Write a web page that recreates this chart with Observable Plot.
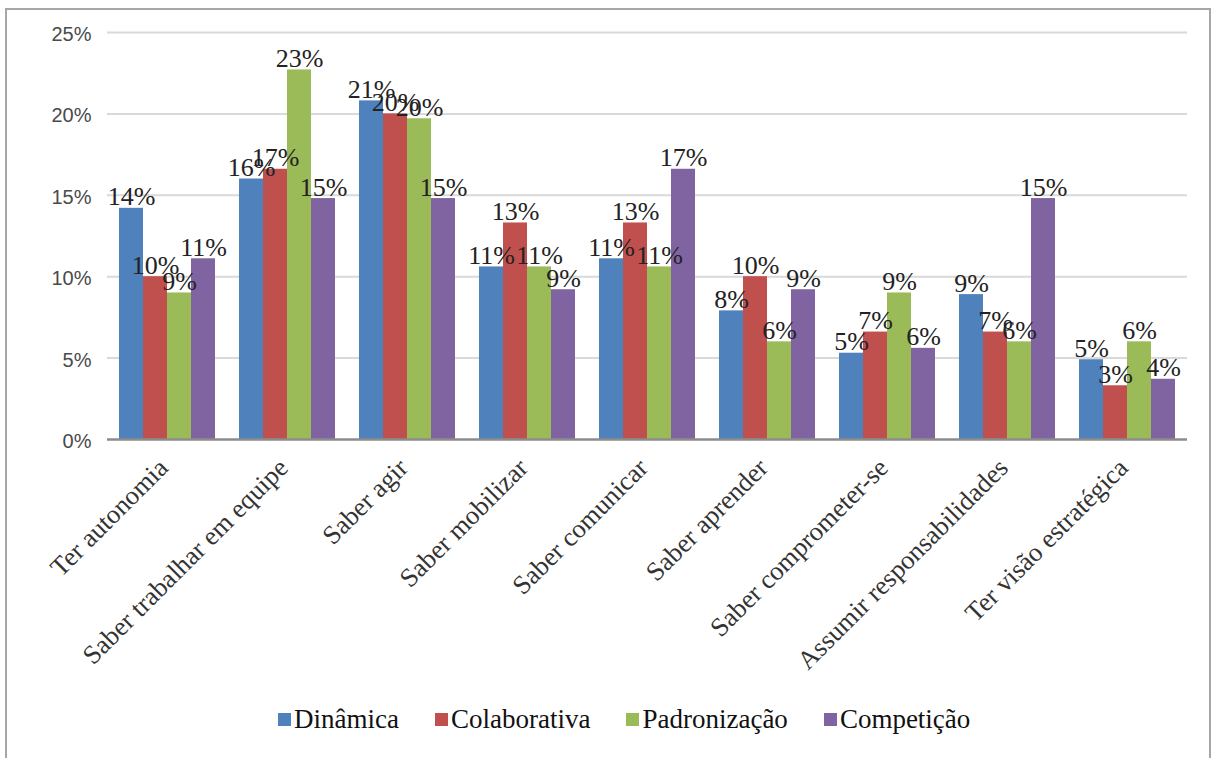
<!DOCTYPE html>
<html>
<head>
<meta charset="utf-8">
<script src="https://cdn.jsdelivr.net/npm/d3@7"></script>
<script src="https://cdn.jsdelivr.net/npm/@observablehq/plot@0.6"></script>
<style>
  html, body { margin: 0; padding: 0; background: #fff; width: 1215px; height: 758px; overflow: hidden; }
  #frame { position: absolute; left: 5px; top: 8px; width: 1206px; height: 770px; border: 2px solid #a6a6a6; border-bottom: none; box-sizing: border-box; }
  #chart { position: absolute; left: 0; top: 0; }
  #legend { position: absolute; left: 278px; top: 704px; display: flex; align-items: center; font-family: "Liberation Serif", "Times New Roman", serif; font-size: 27px; color: #111; }
  #legend .item { display: flex; align-items: center; margin-right: 36px; }
  #legend .sw { width: 13px; height: 13px; margin-right: 3px; }
</style>
</head>
<body>
<div id="frame"></div>
<div id="chart"></div>
<div id="legend"></div>
<script>
const categories = ["Ter autonomia","Saber trabalhar em equipe","Saber agir","Saber mobilizar","Saber comunicar","Saber aprender","Saber comprometer-se","Assumir responsabilidades","Ter visão estratégica"];
const series = ["Dinâmica","Colaborativa","Padronização","Competição"];
const dinamica =     [14.2, 16.0, 20.8, 10.6, 11.1,  7.9, 5.3,  8.9, 4.9];
const colaborativa = [10.0, 16.6, 20.0, 13.3, 13.3, 10.0, 6.6,  6.6, 3.3];
const padronizacao = [ 9.0, 22.7, 19.7, 10.6, 10.6,  6.0, 9.0,  6.0, 6.0];
const competicao =   [11.1, 14.8, 14.8,  9.2, 16.6,  9.2, 5.6, 14.8, 3.7];
const yTicks = [0, 5, 10, 15, 20, 25];
const colors = ["#4F81BD", "#C0504D", "#9BBB59", "#8064A2"];
const serif = "Liberation Serif";

const seriesValues = [dinamica, colaborativa, padronizacao, competicao];
const data = [];
categories.forEach((c, i) => {
  series.forEach((s, j) => data.push({cat: c, series: s, value: seriesValues[j][i]}));
});

const chart = Plot.plot({
  width: 1215,
  height: 690,
  marginLeft: 103,
  marginRight: 25,
  marginTop: 32,
  marginBottom: 251,
  style: {background: "transparent", overflow: "visible"},
  fx: {domain: categories, padding: 0},
  x: {domain: series, paddingInner: 0, paddingOuter: 0.5, axis: null},
  y: {domain: [0, 25]},
  color: {domain: series, range: colors},
  marks: [
    Plot.ruleY(yTicks.filter(d => d > 0), {stroke: "#d9d9d9", strokeWidth: 2}),
    Plot.axisY(yTicks, {tickSize: 0, tickPadding: 16, dy: 2, tickFormat: d => d + "%", fontSize: 20, fontFamily: "Liberation Sans", fill: "#4a4a4a", label: null}),
    Plot.axisFx({anchor: "bottom", tickRotate: -45, tickSize: 0, tickPadding: 24, dx: -4, fontSize: 26.5, fontFamily: serif, fill: "#333", label: null}),
    Plot.barY(data, {fx: "cat", x: "series", y: "value", fill: "series", inset: 0}),
    Plot.ruleY([0], {stroke: "#8c8c8c", strokeWidth: 2.5}),
    Plot.text(data, {fx: "cat", x: "series", y: "value", text: d => Math.round(d.value) + "%", lineAnchor: "bottom", dy: -3, fontSize: 26, fontFamily: serif, fill: "#222"})
  ]
});
document.getElementById("chart").appendChild(chart);

const legend = document.getElementById("legend");
series.forEach((s, j) => {
  const item = document.createElement("div");
  item.className = "item";
  const sw = document.createElement("span");
  sw.className = "sw";
  sw.style.background = colors[j];
  const t = document.createElement("span");
  t.textContent = s;
  item.appendChild(sw);
  item.appendChild(t);
  legend.appendChild(item);
});
</script>
</body>
</html>
